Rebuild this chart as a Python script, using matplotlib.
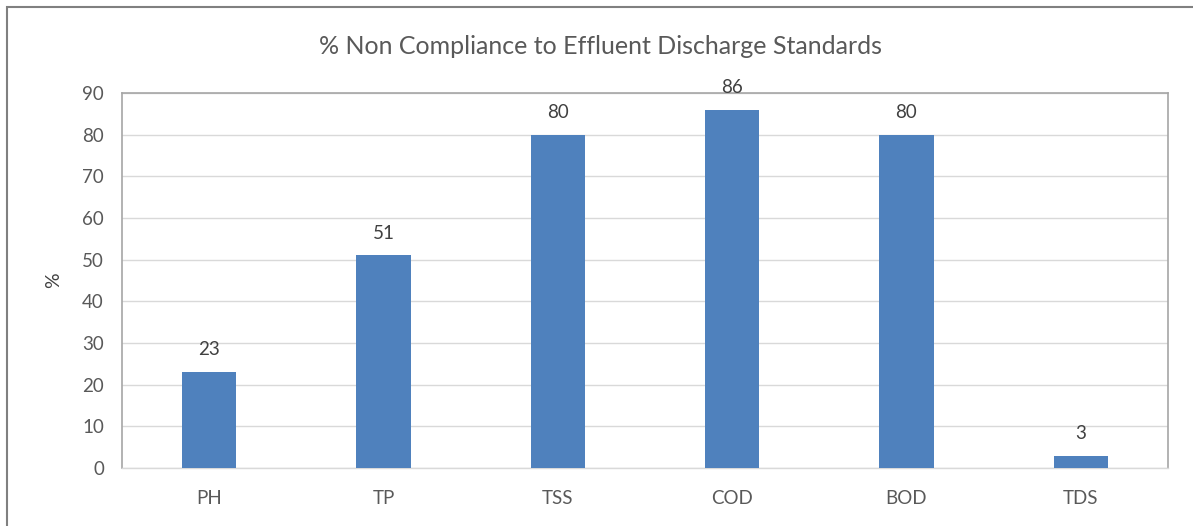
import matplotlib
matplotlib.use("Agg")
import matplotlib.pyplot as plt
from matplotlib.patches import Rectangle

categories = ["PH", "TP", "TSS", "COD", "BOD", "TDS"]
values = [23, 51, 80, 86, 80, 3]
yticks = [0, 10, 20, 30, 40, 50, 60, 70, 80, 90]
title = "% Non Compliance to Effluent Discharge Standards"
ylabel = "%"

plt.rcParams['font.family'] = ['Lato', 'DejaVu Sans']

W, H = 1193, 526
fig = plt.figure(figsize=(W/100, H/100), dpi=100)
ax = fig.add_axes([122/W, (H-468)/H, (1168-122)/W, (468-93)/H])

x = list(range(len(categories)))
ax.bar(x, values, width=0.31, color="#4F81BD", zorder=3)
ax.set_xlim(-0.5, len(categories)-0.5)
ax.set_ylim(0, 90)
ax.set_yticks(yticks)
ax.set_xticks(x)
ax.set_xticklabels(categories)
ax.tick_params(axis='both', length=0, labelsize=13.5, colors="#595959")
ax.tick_params(axis='x', pad=16)
ax.tick_params(axis='y', pad=13)
ax.grid(axis='y', color="#D9D9D9", linewidth=1, zorder=0)
for s in ['left', 'top', 'right']:
    ax.spines[s].set_color("#A6A6A6")
    ax.spines[s].set_linewidth(1.2)
ax.spines['bottom'].set_color("#D9D9D9")
ax.spines['bottom'].set_linewidth(1)

for xi, v in zip(x, values):
    ax.annotate(str(v), (xi, v), xytext=(0, 10), textcoords='offset points',
                ha='center', va='bottom', fontsize=13.5, color="#404040")

ax.set_ylabel(ylabel, fontsize=14, color="#404040", labelpad=14)
fig.text(0.503, (H-46)/H, title, ha='center', va='center', fontsize=18, color="#595959")

fig.patches.append(Rectangle((7/W, -0.1), 1.2, (H-7)/H + 0.1, transform=fig.transFigure,
                             fill=False, edgecolor="#808080", linewidth=1.5))

fig.savefig("out.png", dpi=100)
